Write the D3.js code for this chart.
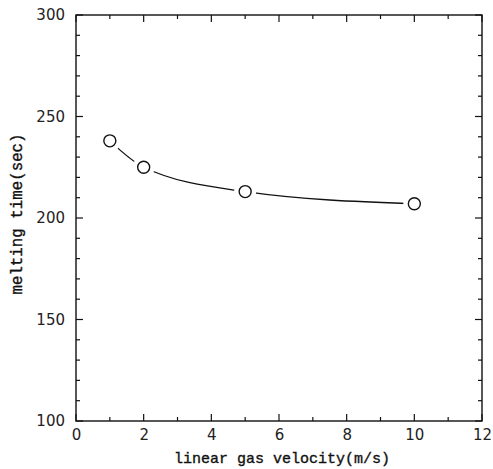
<!DOCTYPE html>
<html><head><meta charset="utf-8">
<script src="https://cdn.jsdelivr.net/npm/d3@7"></script>
<style>body{margin:0;background:#fff}svg{display:block}</style>
</head><body><div id="chart"></div>
<script>
const velocity = [1, 2, 5, 10];
const meltingTime = [238, 225, 213, 207];
const xTicks = [0, 2, 4, 6, 8, 10, 12];
const yTicks = [100, 150, 200, 250, 300];
const xLabel = "linear gas velocity(m/s)";
const yLabel = "melting time(sec)";

const W = 493, H = 469;
const L = 76, R = 482, T = 15, B = 421;
const svg = d3.select("#chart").append("svg").attr("width", W).attr("height", H);
const x = d3.scaleLinear().domain([0, 12]).range([L, R]);
const y = d3.scaleLinear().domain([100, 300]).range([B, T]);
const ink = "#111";

// frame
svg.append("rect").attr("x", L).attr("y", T).attr("width", R - L).attr("height", B - T)
  .attr("fill", "none").attr("stroke", ink).attr("stroke-width", 1.4);

const xMinor = d3.range(0, 13, 1);
const yMinor = d3.range(100, 301, 10);
const g = svg.append("g").attr("stroke", ink).attr("stroke-width", 1.2);
xMinor.forEach(v => {
  const len = v % 2 === 0 ? 7 : 4;
  g.append("line").attr("x1", x(v)).attr("x2", x(v)).attr("y1", B).attr("y2", B - len);
  g.append("line").attr("x1", x(v)).attr("x2", x(v)).attr("y1", T).attr("y2", T + len);
});
yMinor.forEach(v => {
  const len = v % 50 === 0 ? 7 : 4;
  g.append("line").attr("y1", y(v)).attr("y2", y(v)).attr("x1", L).attr("x2", L + len);
  g.append("line").attr("y1", y(v)).attr("y2", y(v)).attr("x1", R).attr("x2", R - len);
});

// tick labels via axes (no tick lines)
const xa = svg.append("g").attr("transform", `translate(0,${B})`)
  .call(d3.axisBottom(x).tickValues(xTicks).tickSize(0).tickPadding(8).tickFormat(d3.format("d")));
const ya = svg.append("g").attr("transform", `translate(${L},0)`)
  .call(d3.axisLeft(y).tickValues(yTicks).tickSize(0).tickPadding(11).tickFormat(d3.format("d")));
[xa, ya].forEach(a => {
  a.select(".domain").remove();
  a.selectAll("text").attr("font-family", "DejaVu Sans, sans-serif").attr("font-size", 15).attr("fill", "#222");
});

// titles
svg.append("text").attr("x", 282).attr("y", 463).attr("text-anchor", "middle")
  .attr("font-family", "Liberation Mono, monospace").attr("font-size", 15).attr("fill", ink)
  .attr("stroke", ink).attr("stroke-width", 0.35).text(xLabel);
svg.append("text").attr("transform", `translate(22,${214}) rotate(-90)`).attr("text-anchor", "middle")
  .attr("font-family", "Liberation Mono, monospace").attr("font-size", 15.8).attr("fill", ink)
  .attr("stroke", ink).attr("stroke-width", 0.35).text(yLabel);

// curve
const pts = velocity.map((v, i) => [v, meltingTime[i]]);
svg.append("path").datum(pts)
  .attr("d", d3.line().x(d => x(d[0])).y(d => y(d[1])).curve(d3.curveMonotoneX))
  .attr("fill", "none").attr("stroke", ink).attr("stroke-width", 1.3);

// markers with white halo (gap)
svg.selectAll("circle.halo").data(pts).enter().append("circle")
  .attr("cx", d => x(d[0])).attr("cy", d => y(d[1])).attr("r", 11).attr("fill", "#fff");
svg.selectAll("circle.pt").data(pts).enter().append("circle")
  .attr("cx", d => x(d[0])).attr("cy", d => y(d[1])).attr("r", 6)
  .attr("fill", "#fff").attr("stroke", ink).attr("stroke-width", 1.4);
</script></body></html>
